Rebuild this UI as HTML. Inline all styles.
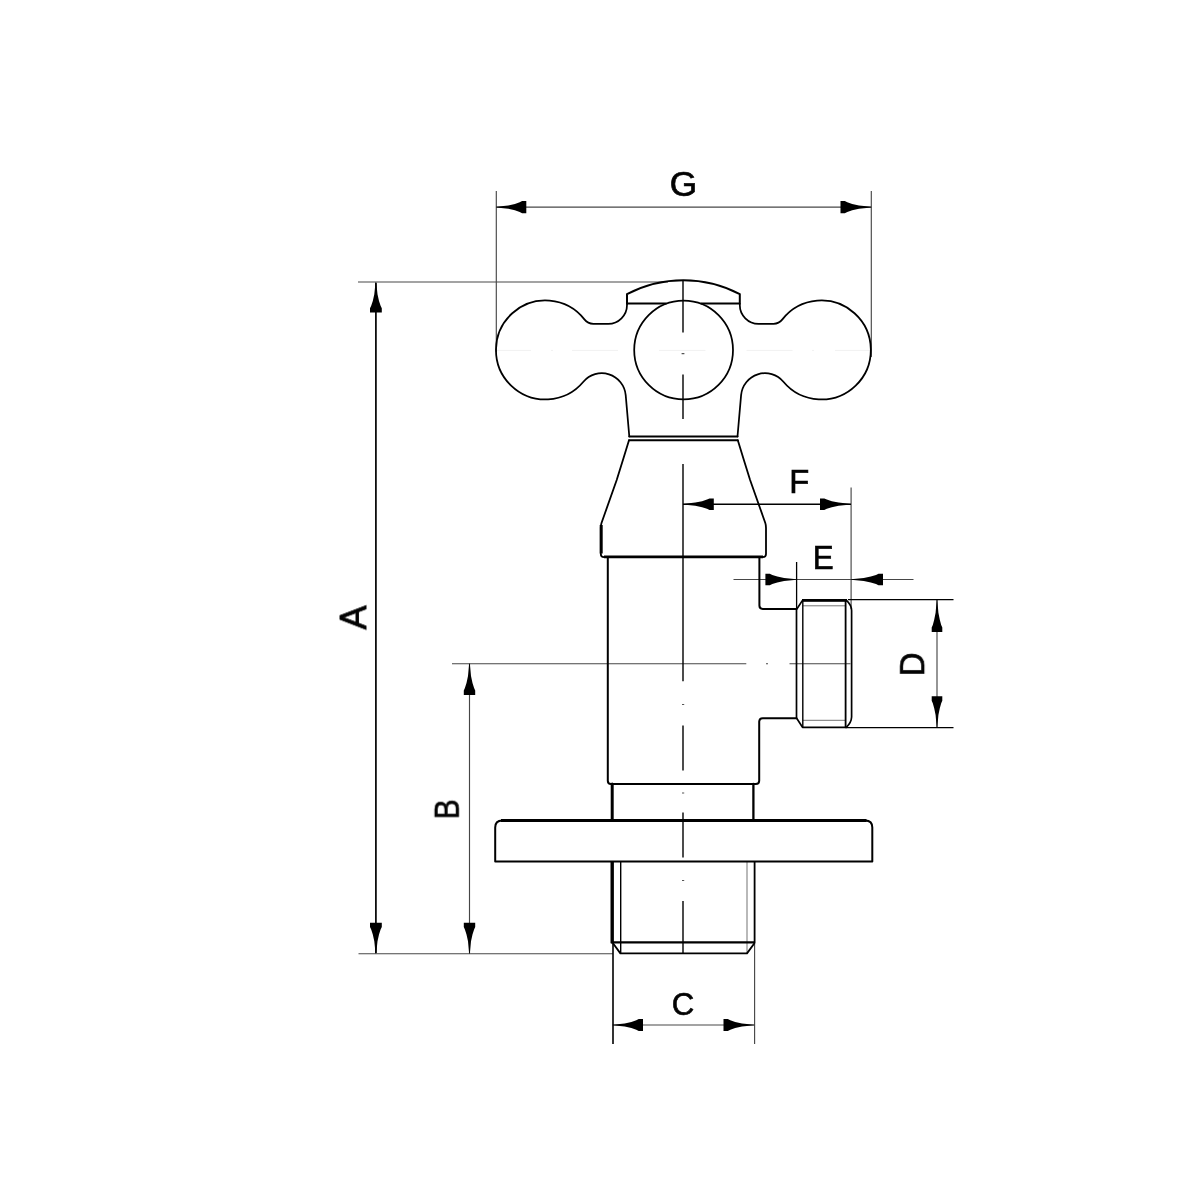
<!DOCTYPE html>
<html><head><meta charset="utf-8">
<style>
html,body{margin:0;padding:0;background:#fff}
svg{display:block}
text{font-family:"Liberation Sans",Arial,sans-serif;fill:#000}
</style></head>
<body>
<svg width="1200" height="1200" viewBox="0 0 1200 1200">
<rect width="1200" height="1200" fill="#fff"/>
<!-- faint centre line through handle -->
<g stroke="#f1f1f1" stroke-width="1" fill="none">
<path d="M497 350.4H531M551 350.4H553M572 350.4H618M659 350.4H705.5M746.5 350.4H792.6M812 350.4H814M835 350.4H870"/>
</g>
<!-- thin dimension / extension lines -->
<g id="thin" stroke="#000" stroke-width="1.15" fill="none" opacity="0.72">
<path d="M496.3 191V352"/>
<path d="M871.3 191V357"/>
<path d="M496 207.1H871"/>
<path d="M358 282H668"/>
<path d="M452 663.7H746.3M766 663.7H768M789.5 663.7H850.5"/>
<path d="M469.5 664V953"/>
<path d="M358.5 953.7H613"/>
<path d="M754.6 944V1044"/>
<path d="M613 1025H754"/>
<path d="M851.1 487.5V609"/>
<path d="M733.5 579.5H913.5"/>
<path d="M937 600V727.5"/>
</g>
<g id="mid" stroke="#000" stroke-width="1.3" fill="none">
<path stroke-width="1.7" d="M375.9 283V953"/>
<path stroke-width="1.5" d="M683 504.2H851"/>
<path d="M796.6 562V609"/>
<path stroke-width="1.6" d="M613 944V1044"/>
<path d="M848 599.7H953.5"/>
<path d="M846 727.6H953.5"/>
</g>
<!-- centre line -->
<g stroke="#000" stroke-width="1.4" fill="none">
<path d="M683 280.5V332.5M683 374.5V419M683 464V681.3M683 725.5V770.5M683 812.5V857.5M683 901V953"/>
</g>
<g stroke="#555" stroke-width="1.2" fill="none">
<path d="M681.6 353.6H684.4M682 704.5H684.2M682 793H684.2M682 880.5H684.2"/>
</g>
<!-- object lines -->
<g id="obj" stroke="#000" stroke-width="2" fill="none" stroke-linejoin="round" stroke-linecap="round">
<!-- handle outline -->
<path stroke-width="1.75" d="M627 303.8V305A18.75 18.75 0 0 1 608.25 323.75H593.3A11.3 11.3 0 0 1 584.4 319.4A49.5 49.5 0 1 0 583.4 381.8A24 24 0 0 1 625.7 395.1L629.3 436.5"/>
<path stroke-width="1.75" d="M739.8 303.8V305A18.75 18.75 0 0 0 758.55 323.75H773.5A11.3 11.3 0 0 0 782.4 319.4A49.5 49.5 0 1 1 783.4 381.8A24 24 0 0 0 741.1 395.1L737.5 436.5"/>
<!-- cap -->
<path d="M627 303.8V294.2A121.3 121.3 0 0 1 739.8 294.2V303.8"/>
<path stroke-linecap="butt" d="M627 303.6H666.5M700.7 303.6H739.8"/>
<!-- centre circle -->
<circle cx="683.6" cy="350" r="49.4" stroke-width="1.75"/>
<!-- ring -->
<path d="M629.3 436.5H737.5M629 440.3H737.8"/>
<!-- bonnet -->
<path stroke-width="1.8" d="M629 440.3Q623 460 616.7 480L601.5 523Q600.8 525 600.8 528V554Q600.8 557.1 604 557.1H762.8Q766 557.1 766 554V528Q766 525 765.3 523L750.1 480Q743.8 460 737.8 440.3"/>
<!-- body -->
<path d="M607.8 557.1V780.8Q607.8 784 611 784H755.8Q759.2 784 759.2 780.8V721.5Q759.4 718.2 762.7 718.2H796.5"/>
<path d="M759.4 557.1V605.5Q759.4 608.9 762.7 608.9H796.5"/>
<!-- neck -->
<path stroke-width="3" d="M612.2 784V820.5"/><path stroke-width="2.3" d="M753.4 784V820.5"/>
<!-- flange -->
<path d="M495.2 861.6V827.4Q495.2 820.4 502.2 820.4H865.3Q872.3 820.4 872.3 827.4V861.6Z"/>
<!-- lower thread -->
<path stroke-width="3.4" stroke-linecap="butt" d="M612.2 862V943.3"/>
<path stroke-width="1.8" d="M612.8 943L620.4 953.4H747L754.6 943V862"/>
<path stroke-width="2.3" stroke-linecap="butt" d="M611 942.3H755"/>
<!-- side thread -->
<path stroke-width="1.7" d="M796.5 609V718L802.5 727.3H846.3Q851.4 722.5 851.6 717V610.5Q851.4 605 846.5 600.4H802.5L796.5 609.5"/>
<path stroke-width="1.8" d="M845.6 600.4V727.3"/>
</g>
<g stroke="#000" stroke-width="2.6" fill="none"><path d="M802 600.4H847"/><path stroke-width="3" d="M501 820.4H866.5"/></g>
<g stroke="#000" stroke-width="3" fill="none"><path d="M601.2 525V553.5"/><path stroke-width="2.6" d="M604 556.9H763"/></g>
<g stroke="#000" stroke-width="1.4" fill="none">
<path d="M802.8 600.4V727.5"/>
<path d="M620.7 862V953"/>
</g>
<g stroke="#000" stroke-width="1" fill="none" opacity="0.55">
<path d="M803 605.8H846M803 720.3H846"/>
<path d="M747 862V953"/>
</g>
<!-- arrows -->
<g fill="#000" stroke="none">
<path d="M496.3 207.4L508.3 208.7L514.9 210.3L519.7 212.0L522.1 213.2L526.3 213.2L526.3 201.0L522.1 201.0L519.7 202.2L514.9 203.9L508.3 205.5L496.3 206.8Z"/>
<path d="M871.3 206.8L859.0 205.5L852.2 203.9L847.3 202.2L844.8 201.0L840.5 201.0L840.5 213.2L844.8 213.2L847.3 212.0L852.2 210.3L859.0 208.7L871.3 207.4Z"/>
<path d="M375.6 282.0L374.3 294.2L372.8 300.9L371.2 305.8L370.0 308.2L370.0 312.5L381.8 312.5L381.8 308.2L380.6 305.8L379.0 300.9L377.5 294.2L376.2 282.0Z"/>
<path d="M376.2 953.7L377.5 941.3L379.0 934.5L380.6 929.5L381.8 927.0L381.8 922.7L370.0 922.7L370.0 927.0L371.2 929.5L372.8 934.5L374.3 941.3L375.6 953.7Z"/>
<path d="M469.2 663.4L468.0 676.0L466.5 682.9L464.9 688.0L463.8 690.5L463.8 694.9L475.2 694.9L475.2 690.5L474.1 688.0L472.5 682.9L471.0 676.0L469.8 663.4Z"/>
<path d="M469.8 953.7L471.0 941.3L472.5 934.5L474.1 929.5L475.2 927.0L475.2 922.7L463.8 922.7L463.8 927.0L464.9 929.5L466.5 934.5L468.0 941.3L469.2 953.7Z"/>
<path d="M612.5 1025.3L624.7 1026.6L631.4 1028.1L636.3 1029.8L638.7 1031.0L643.0 1031.0L643.0 1019.0L638.7 1019.0L636.3 1020.2L631.4 1021.9L624.7 1023.4L612.5 1024.7Z"/>
<path d="M754.3 1024.7L742.0 1023.4L735.2 1021.9L730.3 1020.2L727.8 1019.0L723.5 1019.0L723.5 1031.0L727.8 1031.0L730.3 1029.8L735.2 1028.1L742.0 1026.6L754.3 1025.3Z"/>
<path d="M683.0 504.5L695.3 505.8L702.1 507.2L707.0 508.8L709.5 510.0L713.8 510.0L713.8 498.4L709.5 498.4L707.0 499.6L702.1 501.2L695.3 502.6L683.0 503.9Z"/>
<path d="M851.0 503.9L838.6 502.6L831.8 501.2L826.8 499.6L824.3 498.4L820.0 498.4L820.0 510.0L824.3 510.0L826.8 508.8L831.8 507.2L838.6 505.8L851.0 504.5Z"/>
<path d="M796.6 579.2L784.1 578.0L777.3 576.5L772.3 574.9L769.8 573.8L765.4 573.8L765.4 585.2L769.8 585.2L772.3 584.1L777.3 582.5L784.1 581.0L796.6 579.8Z"/>
<path d="M851.0 579.8L863.8 581.0L870.8 582.5L876.0 584.1L878.5 585.2L883.0 585.2L883.0 573.8L878.5 573.8L876.0 574.9L870.8 576.5L863.8 578.0L851.0 579.2Z"/>
<path d="M936.7 600.0L935.6 612.8L934.2 619.8L932.8 625.0L931.7 627.5L931.7 632.0L942.3 632.0L942.3 627.5L941.2 625.0L939.8 619.8L938.4 612.8L937.3 600.0Z"/>
<path d="M937.3 727.5L938.4 715.0L939.8 708.2L941.2 703.2L942.3 700.7L942.3 696.3L931.7 696.3L931.7 700.7L932.8 703.2L934.2 708.2L935.6 715.0L936.7 727.5Z"/>
</g>
<!-- labels -->
<g font-size="100" stroke="#000" stroke-width="2" opacity="0.995">
<text transform="matrix(0.3519 0 0 0.3425 669.84 196.02)">G</text>
<text transform="matrix(0.3275 0 0 0.3380 789.21 492.66)">F</text>
<text transform="matrix(0.3133 0 0 0.3310 812.81 568.97)">E</text>
<text transform="matrix(0.3115 0 0 0.3178 671.65 1015.06)">C</text>
<text transform="matrix(0 -0.3623 0.3787 0 365.62 629.64)">A</text>
<text transform="matrix(0 -0.2991 0.3521 0 458.85 819.09)">B</text>
<text transform="matrix(0 -0.3293 0.3423 0 924.66 676.30)">D</text>
</g>
</svg>
</body></html>
